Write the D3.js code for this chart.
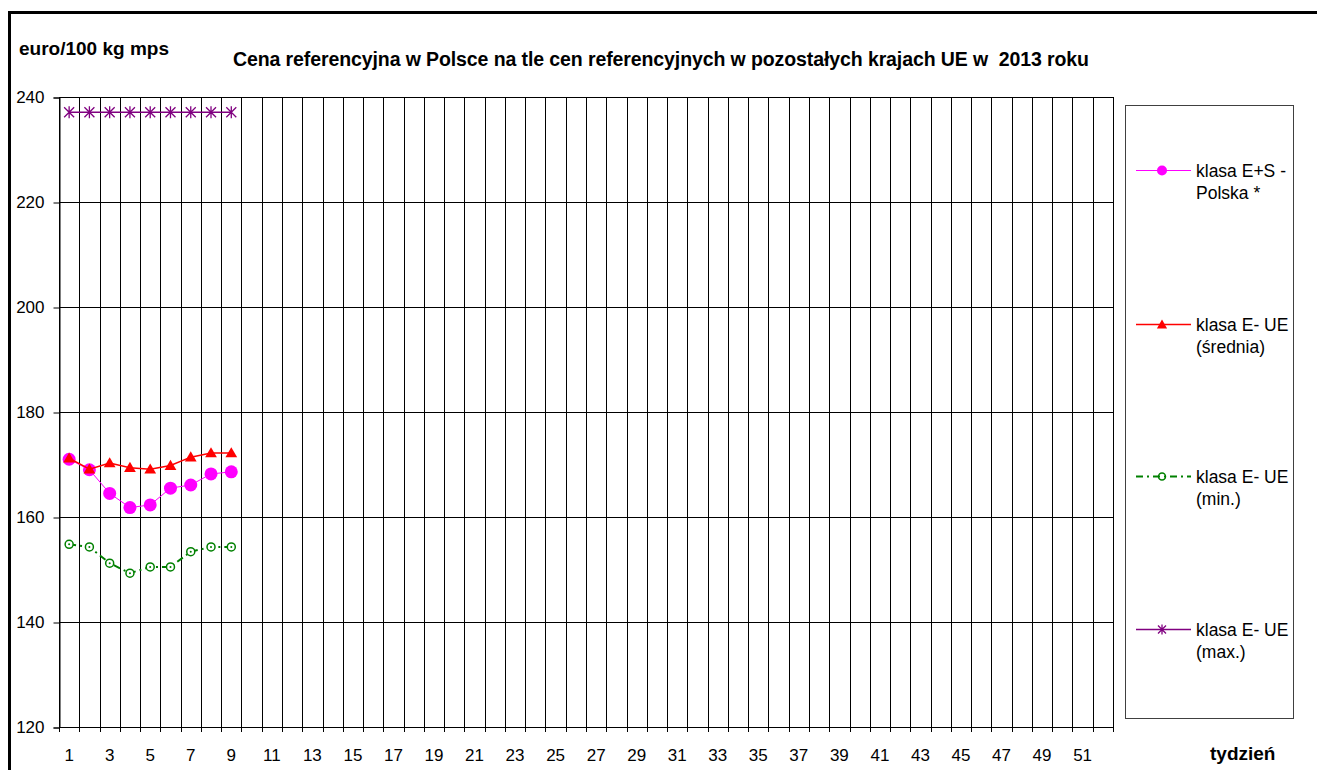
<!DOCTYPE html>
<html>
<head>
<meta charset="utf-8">
<script src="https://cdn.jsdelivr.net/npm/d3@7"></script>
<style>
  body { margin: 0; background: #fff; }
  svg { display: block; font-family: "Liberation Sans", Arial, sans-serif; }
</style>
</head>
<body>
<svg width="1317" height="770"></svg>
<script>
// weeks of the year (categories)
var weeks = d3.range(1, 53);
var weekLabels = weeks.filter(function (w) { return w % 2 === 1; });
var yTicks = [120, 140, 160, 180, 200, 220, 240];

// series values, weeks 1..9
var polska = [171.0, 169.0, 164.5, 161.8, 162.3, 165.5, 166.1, 168.2, 168.6];
var sredniaUE = [171.2, 169.1, 170.3, 169.4, 169.1, 169.8, 171.4, 172.2, 172.2];
var minUE = [154.8, 154.3, 151.2, 149.3, 150.5, 150.5, 153.4, 154.3, 154.3];
var maxUE = [237.1, 237.1, 237.1, 237.1, 237.1, 237.1, 237.1, 237.1, 237.1];

var seriesNames = [["klasa E+S -", "Polska *"], ["klasa E- UE", "(średnia)"],
                   ["klasa E- UE", "(min.)"], ["klasa E- UE", "(max.)"]];

var svg = d3.select("svg");

var plot = { left: 59, right: 1113, top: 97, bottom: 727 };

var x = d3.scaleBand().domain(weeks).range([plot.left, plot.right]).padding(0);
var y = d3.scaleLinear().domain([120, 240]).range([plot.bottom, plot.top]);

// outer frame
svg.append("rect")
    .attr("x", 9.5).attr("y", 12.5)
    .attr("width", 1400).attr("height", 900)
    .attr("fill", "none").attr("stroke", "#000").attr("stroke-width", 3);

// horizontal gridlines
svg.append("g").selectAll("line")
    .data(yTicks).enter().append("line")
    .attr("x1", plot.left).attr("x2", plot.right)
    .attr("y1", function (d) { return Math.round(y(d)) + 0.5; })
    .attr("y2", function (d) { return Math.round(y(d)) + 0.5; })
    .attr("stroke", "#000").attr("stroke-width", 1);

// vertical gridlines at category boundaries
var bounds = weeks.map(function (w) { return x(w); }).concat([x(52) + x.bandwidth()]);
svg.append("g").selectAll("line")
    .data(bounds).enter().append("line")
    .attr("x1", function (d) { return Math.round(d) + 0.5; })
    .attr("x2", function (d) { return Math.round(d) + 0.5; })
    .attr("y1", plot.top).attr("y2", plot.bottom + 5)
    .attr("stroke", "#000").attr("stroke-width", 1);

// y axis
var yAxis = svg.append("g")
    .attr("transform", "translate(" + (plot.left + 0.5) + ",0.5)")
    .call(d3.axisLeft(y).tickValues(yTicks).tickSize(6).tickPadding(9).tickFormat(d3.format("d")));
yAxis.select(".domain").attr("stroke", "#000");
yAxis.selectAll("text").attr("font-size", "17px").attr("fill", "#000")
    .attr("font-family", "Liberation Sans, Arial, sans-serif");

// x axis
var xAxis = svg.append("g")
    .attr("transform", "translate(0," + (plot.bottom + 0.5) + ")")
    .call(d3.axisBottom(x).tickValues(weekLabels).tickSize(0).tickPadding(21));
xAxis.select(".domain").remove();
xAxis.selectAll("text").attr("font-size", "17px").attr("fill", "#000")
    .attr("font-family", "Liberation Sans, Arial, sans-serif");

// titles
svg.append("text")
    .attr("x", 19).attr("y", 55)
    .attr("font-size", "19px").attr("font-weight", "bold")
    .text("euro/100 kg mps");

svg.append("text")
    .attr("x", 233).attr("y", 66)
    .attr("font-size", "19.5px").attr("font-weight", "bold")
    .attr("letter-spacing", "-0.1px")
    .style("white-space", "pre")
    .text("Cena referencyjna w Polsce na tle cen referencyjnych w pozostałych krajach UE w  2013 roku");

svg.append("text")
    .attr("x", 1210).attr("y", 760)
    .attr("font-size", "19px").attr("font-weight", "bold")
    .text("tydzień");

function cx(d, i) { return x(weeks[i]) + x.bandwidth() / 2; }

var line = d3.line()
    .x(function (d, i) { return cx(d, i); })
    .y(function (d) { return y(d); });

var starPath = "M-5,-5L5,5M-5,5L5,-5M0,-6L0,6";

// pink series: Polska
svg.append("path").datum(polska)
    .attr("d", line).attr("fill", "none")
    .attr("stroke", "#FF00FF").attr("stroke-width", 1);
svg.append("g").selectAll("circle")
    .data(polska).enter().append("circle")
    .attr("cx", cx).attr("cy", function (d) { return y(d); })
    .attr("r", 6.5).attr("fill", "#FF00FF");

// red series: average
svg.append("path").datum(sredniaUE)
    .attr("d", line).attr("fill", "none")
    .attr("stroke", "#FF0000").attr("stroke-width", 1.5);
svg.append("g").selectAll("path")
    .data(sredniaUE).enter().append("path")
    .attr("d", d3.symbol().type(d3.symbolTriangle).size(60))
    .attr("transform", function (d, i) { return "translate(" + cx(d, i) + "," + (y(d) + 1) + ")"; })
    .attr("fill", "#FF0000");

// green series: min
svg.append("path").datum(minUE)
    .attr("d", line).attr("fill", "none")
    .attr("stroke", "#008000").attr("stroke-width", 2)
    .attr("stroke-dasharray", "7,4,2,4");
var minG = svg.append("g").selectAll("g")
    .data(minUE).enter().append("g")
    .attr("transform", function (d, i) { return "translate(" + cx(d, i) + "," + y(d) + ")"; });
minG.append("circle").attr("r", 4).attr("fill", "#fff")
    .attr("stroke", "#008000").attr("stroke-width", 1.5);
minG.append("circle").attr("r", 1).attr("fill", "#008000");

// purple series: max
svg.append("path").datum(maxUE)
    .attr("d", line).attr("fill", "none")
    .attr("stroke", "#800080").attr("stroke-width", 1.5);
svg.append("g").selectAll("path")
    .data(maxUE).enter().append("path")
    .attr("d", starPath)
    .attr("transform", function (d, i) { return "translate(" + cx(d, i) + "," + y(d) + ")"; })
    .attr("stroke", "#800080").attr("stroke-width", 1.3).attr("fill", "none");

// legend
var legend = svg.append("g");
legend.append("rect")
    .attr("x", 1125.5).attr("y", 105.5).attr("width", 168).attr("height", 613)
    .attr("fill", "#fff").attr("stroke", "#404040").attr("stroke-width", 1);

var legendY = [170.5, 324.5, 476.5, 629.5];
var colors = ["#FF00FF", "#FF0000", "#008000", "#800080"];

legendY.forEach(function (ly, i) {
    var g = legend.append("g").attr("transform", "translate(0," + ly + ")");
    var ln = g.append("line").attr("x1", 1136).attr("x2", 1191).attr("y1", 0).attr("y2", 0)
        .attr("stroke", colors[i]).attr("stroke-width", i === 0 ? 1 : (i === 2 ? 2 : 1.5));
    if (i === 2) ln.attr("stroke-dasharray", "7,4,2,4");
    var mx = 1162;
    if (i === 0) g.append("circle").attr("cx", mx).attr("cy", 0).attr("r", 5).attr("fill", colors[i]);
    if (i === 1) g.append("path").attr("d", d3.symbol().type(d3.symbolTriangle).size(45))
        .attr("transform", "translate(" + mx + ",1)").attr("fill", colors[i]);
    if (i === 2) g.append("circle").attr("cx", mx).attr("cy", 0).attr("r", 3.5).attr("fill", "none")
        .attr("stroke", colors[i]).attr("stroke-width", 1.5);
    if (i === 3) g.append("path").attr("d", "M-4,-4L4,4M-4,4L4,-4M0,-5L0,5")
        .attr("transform", "translate(" + mx + ",0)").attr("stroke", colors[i]).attr("stroke-width", 1.3);
    var t = g.append("text").attr("x", 1196).attr("y", 6.5).attr("font-size", "17.5px");
    t.append("tspan").attr("x", 1196).text(seriesNames[i][0]);
    t.append("tspan").attr("x", 1196).attr("dy", 22).text(seriesNames[i][1]);
});
</script>
</body>
</html>
